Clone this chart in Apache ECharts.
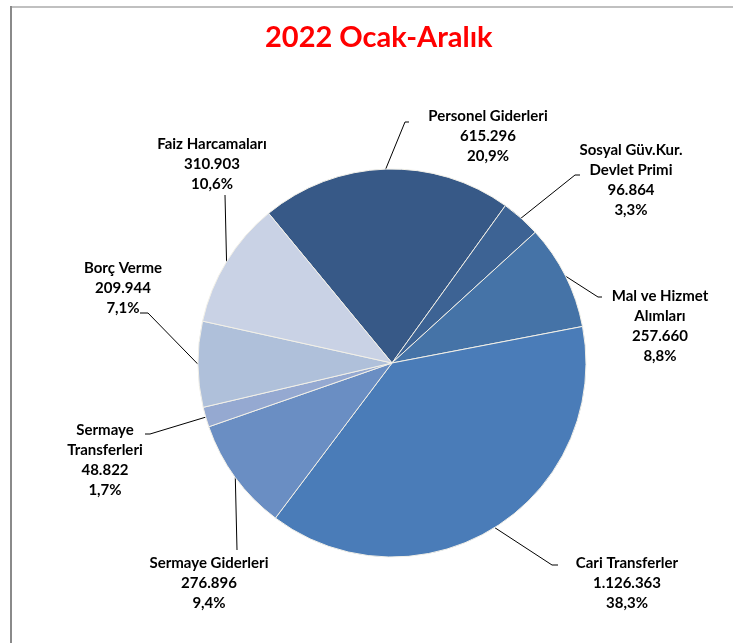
<!DOCTYPE html>
<html>
<head>
<meta charset="utf-8">
<script src="https://cdn.jsdelivr.net/npm/echarts@6/dist/echarts.min.js"></script>
<style>
html,body{margin:0;padding:0;background:#fff;}
#chart{width:733px;height:643px;}
</style>
</head>
<body>
<div id="chart"></div>
<script>
const titleText = '2022 Ocak-Aralık';
const categories = ['Personel Giderleri', 'Sosyal Güv.Kur.\nDevlet Primi', 'Mal ve Hizmet\nAlımları', 'Cari Transferler', 'Sermaye Giderleri', 'Sermaye\nTransferleri', 'Borç Verme', 'Faiz Harcamaları'];
const values = [615296, 96864, 257660, 1126363, 276896, 48822, 209944, 310903];
const colors = ['#375987', '#3d6394', '#4573a7', '#4a7cb8', '#6a8ec3', '#95a9d1', '#afc0da', '#c9d2e5'];

// label layout (positions only): block centre, leader end offset from centre, elbow offset
const labelPos = [[488,136],[631,180],[660,326],[627,583],[209,583],[105,460],[123,288],[212,164]];
const lineEnd = [[-79,-14],[-51,-5],[-58,-29],[-69,-18],[28,-33],[40,-26],[17,25],[13,31]];
const elbowDx = [-4,-5,-4,-6,0,5,8,0];

const total = values.reduce((a, b) => a + b, 0);
function fmtNum(v) { return String(v).replace(/\B(?=(\d{3})+(?!\d))/g, '.'); }
function fmtPct(v) { return (v / total * 100).toFixed(1).replace('.', ',') + '%'; }

const chart = echarts.init(document.getElementById('chart'));
chart.setOption({
  animation: false,
  backgroundColor: '#ffffff',
  title: {
    text: titleText,
    left: 265,
    top: 23,
    padding: 0,
    textStyle: { color: '#ff0000', fontFamily: 'Lato', fontWeight: 'bold', fontSize: 29 }
  },
  graphic: [
    { type: 'line', shape: { x1: 11, y1: 7, x2: 733, y2: 7 }, style: { stroke: '#c0c0c0', lineWidth: 2 } },
    { type: 'line', shape: { x1: 11, y1: 6, x2: 11, y2: 643 }, style: { stroke: '#8a8a8a', lineWidth: 2 } }
  ],
  series: [{
    type: 'pie',
    center: [392, 363],
    radius: 194,
    startAngle: 129.5,
    clockwise: true,
    avoidLabelOverlap: false,
    itemStyle: { borderColor: '#f2f0e8', borderWidth: 1 },
    label: {
      show: true,
      position: 'outside',
      color: '#000',
      fontFamily: 'Lato',
      fontWeight: 'bold',
      fontSize: 15,
      lineHeight: 20,
      align: 'center',
      formatter: function (p) { return p.name + '\n' + fmtNum(p.value) + '\n' + fmtPct(p.value); }
    },
    labelLine: { show: true, length: 10, length2: 6, lineStyle: { color: '#000', width: 1 } },
    labelLayout: function (params) {
      const i = params.dataIndex;
      const pos = labelPos[i];
      const out = { x: pos[0], y: pos[1], align: 'center', verticalAlign: 'middle' };
      const pts = params.labelLinePoints;
      if (pts && pts.length) {
        const end = [pos[0] + lineEnd[i][0], pos[1] + lineEnd[i][1]];
        const elbow = [end[0] + elbowDx[i], end[1]];
        out.labelLinePoints = [[pts[0][0], pts[0][1]], elbow, end];
      }
      return out;
    },
    data: categories.map((c, i) => ({ name: c, value: values[i], itemStyle: { color: colors[i] } }))
  }]
});
</script>
</body>
</html>
